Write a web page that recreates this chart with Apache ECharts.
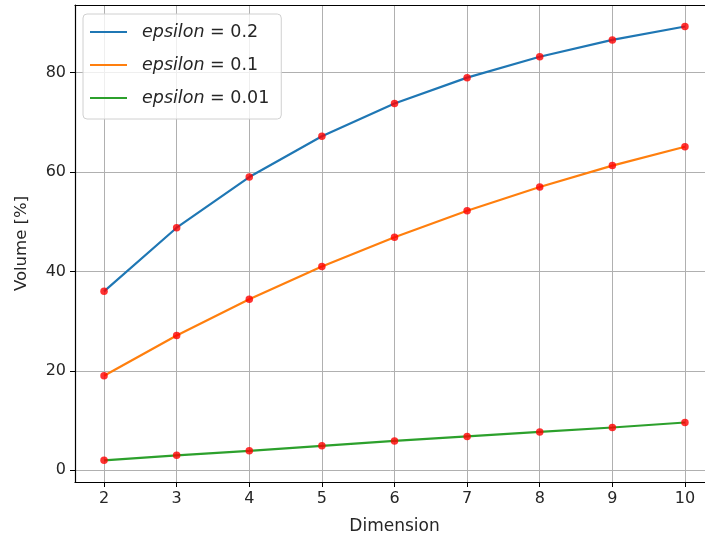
<!DOCTYPE html>
<html><head><meta charset="utf-8">
<script src="https://cdn.jsdelivr.net/npm/echarts@6/dist/echarts.min.js"></script>
<style>html,body{margin:0;padding:0;background:#fff}#c{width:705px;height:537px}</style>
</head><body><div id="c"></div>
<script>
const dimensions = [2, 3, 4, 5, 6, 7, 8, 9, 10];
const eps02 = [36.0, 48.8, 59.0, 67.2, 73.8, 79.0, 83.2, 86.6, 89.3];
const eps01 = [19.0, 27.1, 34.4, 41.0, 46.9, 52.2, 57.0, 61.3, 65.1];
const eps001 = [2.0, 3.0, 3.9, 4.9, 5.9, 6.8, 7.7, 8.6, 9.6];
const xTicks = [2, 3, 4, 5, 6, 7, 8, 9, 10];
const yTicks = [0, 20, 40, 60, 80];
const seriesNames = ['0.2', '0.1', '0.01'];
const colors = ['#1f77b4', '#ff7f0e', '#2ca02c'];

const FONT = 'DejaVu Sans';
const chart = echarts.init(document.getElementById('c'));
const pairs = arr => dimensions.map((d, i) => [d, arr[i]]);
const allData = [eps02, eps01, eps001];

const series = [];
allData.forEach((arr, k) => {
  series.push({
    name: seriesNames[k], type: 'line', data: pairs(arr), symbol: 'none',
    lineStyle: { color: colors[k], width: 2.2 }, itemStyle: { color: colors[k] },
    xAxisIndex: 0, yAxisIndex: 0, z: 3, animation: false
  });
});
allData.forEach((arr, k) => {
  series.push({
    name: 'pts' + k, type: 'scatter', data: pairs(arr), symbol: 'circle', symbolSize: 7.5,
    itemStyle: { color: '#ff0000' }, xAxisIndex: 0, yAxisIndex: 0, z: 4, animation: false
  });
});

const gridLine = { show: true, lineStyle: { color: '#b0b0b0', width: 1 } };
chart.setOption({
  animation: false,
  grid: { left: 75, top: 5, width: 639, height: 477, containLabel: false, outerBoundsMode: 'none' },
  xAxis: [{
    type: 'value', min: 1.6, max: 10.4, position: 'bottom',
    name: 'Dimension', nameLocation: 'middle', nameGap: 36,
    nameTextStyle: { fontFamily: FONT, fontSize: 17, color: '#262626' },
    axisLine: { show: true, onZero: false, lineStyle: { color: '#000', width: 1.2 } },
    axisTick: { show: true, length: 5, customValues: xTicks, lineStyle: { color: '#000' } },
    axisLabel: { customValues: xTicks, fontFamily: FONT, fontSize: 16, color: '#262626', margin: 9 },
    splitLine: Object.assign({ customValues: xTicks }, gridLine)
  }, {
    type: 'value', min: 1.6, max: 10.4, position: 'top',
    axisLine: { show: true, onZero: false, lineStyle: { color: '#000', width: 1.2 } },
    axisTick: { show: false }, axisLabel: { show: false }, splitLine: { show: false }
  }],
  yAxis: [{
    type: 'value', min: -2.37, max: 93.62, position: 'left',
    name: 'Volume [%]', nameLocation: 'middle', nameGap: 45, nameRotate: 90,
    nameTextStyle: { fontFamily: FONT, fontSize: 16.5, color: '#262626' },
    axisLine: { show: true, onZero: false, lineStyle: { color: '#000', width: 1.2 } },
    axisTick: { show: true, length: 5, customValues: yTicks, lineStyle: { color: '#000' } },
    axisLabel: { customValues: yTicks, fontFamily: FONT, fontSize: 16, color: '#262626', margin: 9 },
    splitLine: Object.assign({ customValues: yTicks }, gridLine)
  }],
  legend: {
    data: seriesNames.map((n, k) => ({ name: n, icon: 'rect', itemStyle: { color: colors[k] } })),
    orient: 'vertical', left: 83, top: 14,
    itemWidth: 37, itemHeight: 2.2, itemGap: 15,
    padding: [9, 12, 12, 7],
    backgroundColor: 'rgba(255,255,255,0.8)', borderColor: '#d0d0d0', borderWidth: 1, borderRadius: 4,
    formatter: n => '{i|epsilon} = ' + n,
    textStyle: {
      fontFamily: FONT, fontSize: 17.5, color: '#262626', padding: [0, 0, 0, 10],
      rich: { i: { fontStyle: 'italic', fontFamily: FONT, fontSize: 17.5, color: '#262626' } }
    }
  },
  series
});
</script></body></html>
